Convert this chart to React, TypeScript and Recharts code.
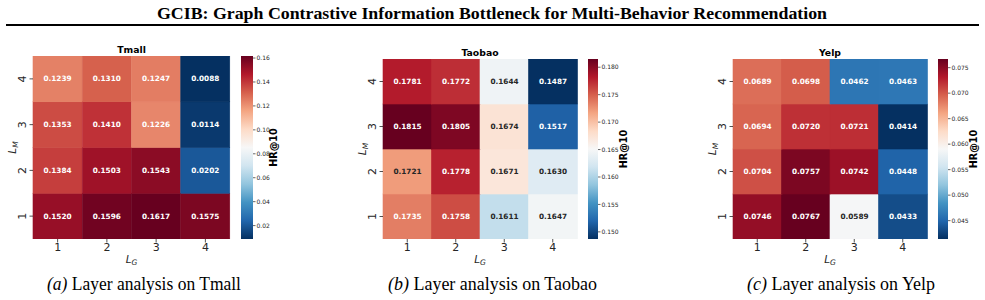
import React from 'react';
import { BarChart, Bar, XAxis, YAxis, Label } from 'recharts';

// ---------- data ----------
const lgTicks = ['1', '2', '3', '4'];
const lmTicks = ['1', '2', '3', '4'];

// values indexed by L_G = 1..4
const tmallLM1 = [0.152, 0.1596, 0.1617, 0.1575];
const tmallLM2 = [0.1384, 0.1503, 0.1543, 0.0202];
const tmallLM3 = [0.1353, 0.141, 0.1226, 0.0114];
const tmallLM4 = [0.1239, 0.131, 0.1247, 0.0088];

const taobaoLM1 = [0.1735, 0.1758, 0.1611, 0.1647];
const taobaoLM2 = [0.1721, 0.1778, 0.1671, 0.163];
const taobaoLM3 = [0.1815, 0.1805, 0.1674, 0.1517];
const taobaoLM4 = [0.1781, 0.1772, 0.1644, 0.1487];

const yelpLM1 = [0.0746, 0.0767, 0.0589, 0.0433];
const yelpLM2 = [0.0704, 0.0757, 0.0742, 0.0448];
const yelpLM3 = [0.0694, 0.072, 0.0721, 0.0414];
const yelpLM4 = [0.0689, 0.0698, 0.0462, 0.0463];

const tmallCbTicks = [0.02, 0.04, 0.06, 0.08, 0.1, 0.12, 0.14, 0.16];
const taobaoCbTicks = [0.15, 0.155, 0.16, 0.165, 0.17, 0.175, 0.18];
const yelpCbTicks = [0.045, 0.05, 0.055, 0.06, 0.065, 0.07, 0.075];

const datasetNames = ['Tmall', 'Taobao', 'Yelp'];
const captionLetters = ['(a)', '(b)', '(c)'];
const captionTexts = [' Layer analysis on Tmall', ' Layer analysis on Taobao', ' Layer analysis on Yelp'];
const mainTitle = 'GCIB: Graph Contrastive Information Bottleneck for Multi-Behavior Recommendation';
const cbLabel = 'HR@10';

const datasets = [
  { id: 'tmall', rows: [tmallLM1, tmallLM2, tmallLM3, tmallLM4], cbTicks: tmallCbTicks, dec: 2 },
  { id: 'taobao', rows: [taobaoLM1, taobaoLM2, taobaoLM3, taobaoLM4], cbTicks: taobaoCbTicks, dec: 3 },
  { id: 'yelp', rows: [yelpLM1, yelpLM2, yelpLM3, yelpLM4], cbTicks: yelpCbTicks, dec: 3 },
];

// ---------- layout ----------
const layouts = [
  { plotLeft: 33, plotRight: 230, plotTop: 56, plotBottom: 239, cbLeft: 241, cbRight: 253, hrOff: 20, titleBase: 52.7, capLeft: 47, capWidth: 194 },
  { plotLeft: 383, plotRight: 577, plotTop: 59, plotBottom: 239, cbLeft: 588, cbRight: 598, hrOff: 25, titleBase: 56.3, capLeft: 388, capWidth: 209 },
  { plotLeft: 733, plotRight: 927, plotTop: 59, plotBottom: 239, cbLeft: 938, cbRight: 948, hrOff: 25, titleBase: 56.3, capLeft: 747, capWidth: 188 },
];

const FONT = '"DejaVu Sans", sans-serif';
const SERIF = '"Liberation Serif", "Times New Roman", serif';
const TEXT_DARK = '#262626';

// RdBu_r colormap stops (low -> high)
const RDBU_R = ['#053061', '#2166ac', '#4393c3', '#92c5de', '#d1e5f0', '#f7f7f7', '#fddbc7', '#f4a582', '#d6604d', '#b2182b', '#67001f'];

function hexToRgb(h: string) {
  return [parseInt(h.slice(1, 3), 16), parseInt(h.slice(3, 5), 16), parseInt(h.slice(5, 7), 16)];
}
function cmap(t: number): number[] {
  const tt = Math.max(0, Math.min(1, t));
  const pos = tt * (RDBU_R.length - 1);
  const i = Math.min(Math.floor(pos), RDBU_R.length - 2);
  const f = pos - i;
  const a = hexToRgb(RDBU_R[i]);
  const b = hexToRgb(RDBU_R[i + 1]);
  return [0, 1, 2].map((k) => a[k] + (b[k] - a[k]) * f);
}
function rgbStr(c: number[]) {
  return `rgb(${Math.round(c[0])},${Math.round(c[1])},${Math.round(c[2])})`;
}
function luminance(c: number[]) {
  const lin = c.map((v) => {
    const s = v / 255;
    return s <= 0.03928 ? s / 12.92 : Math.pow((s + 0.055) / 1.055, 2.4);
  });
  return 0.2126 * lin[0] + 0.7152 * lin[1] + 0.0722 * lin[2];
}

const M_TOP = 26;
const M_BOTTOM = 32;
const X_H = 26;
const Y_W = 30;
const M_LEFT = 3;
const M_RIGHT = 5;

function Heatmap({ ds, lay }: any) {
  const all = ds.rows.flat();
  const vmin = Math.min(...all);
  const vmax = Math.max(...all);
  const table = lgTicks.map((lg, j) => ({
    lg,
    h1: 1, h2: 1, h3: 1, h4: 1,
    v1: ds.rows[0][j], v2: ds.rows[1][j], v3: ds.rows[2][j], v4: ds.rows[3][j],
  }));
  const pw = lay.plotRight - lay.plotLeft;
  const ph = lay.plotBottom - lay.plotTop;
  const width = pw + M_LEFT + Y_W + M_RIGHT;
  const height = ph + M_TOP + M_BOTTOM;

  const yTick = (p: any) => {
    const { x, y, payload } = p;
    const label = lmTicks[Math.floor(payload.value)];
    const bx = x - 1.5;
    return (
      <text x={bx} y={y} transform={`rotate(-90 ${bx} ${y})`} textAnchor="middle" fontSize={11} fill={TEXT_DARK} fontFamily={FONT}>
        {label}
      </text>
    );
  };

  const lgLabel = () => {
    const cx = M_LEFT + Y_W + pw / 2;
    const by = M_TOP + ph + 24.3;
    return (
      <text x={cx} y={by} textAnchor="middle" fontFamily={FONT} fill={TEXT_DARK}>
        <tspan fontStyle="italic" fontSize={10.5}>L</tspan>
        <tspan fontStyle="italic" fontSize={7.5} dy={2}>G</tspan>
      </text>
    );
  };

  const lmLabel = () => {
    const bx = M_LEFT + Y_W - 17.5;
    const cy = M_TOP + ph / 2;
    return (
      <text x={bx} y={cy} transform={`rotate(-90 ${bx} ${cy})`} textAnchor="middle" fontFamily={FONT} fill={TEXT_DARK}>
        <tspan fontStyle="italic" fontSize={10.5}>L</tspan>
        <tspan fontStyle="italic" fontSize={7.5} dy={2}>M</tspan>
      </text>
    );
  };

  const makeShape = (k: number) => (p: any) => {
    const v = p.payload['v' + k];
    const c = cmap((v - vmin) / (vmax - vmin));
    const col = rgbStr(c);
    const txt = luminance(c) > 0.408 ? TEXT_DARK : '#ffffff';
    return (
      <g>
        <rect x={p.x} y={p.y} width={p.width} height={p.height} fill={col} stroke={col} strokeWidth={0.6} />
        <text
          x={p.x + p.width / 2}
          y={p.y + p.height / 2}
          textAnchor="middle"
          dominantBaseline="central"
          fontSize={7.3}
          fontWeight="bold"
          fill={txt}
          fontFamily={FONT}
        >
          {v.toFixed(4)}
        </text>
      </g>
    );
  };

  return (
    <div style={{ position: 'absolute', left: lay.plotLeft - M_LEFT - Y_W, top: lay.plotTop - M_TOP }}>
      <BarChart
        width={width}
        height={height}
        data={table}
        margin={{ top: M_TOP, right: M_RIGHT, bottom: M_BOTTOM - X_H, left: M_LEFT }}
        barCategoryGap={0}
        barGap={0}
      >
        <XAxis
          dataKey="lg"
          height={X_H}
          tickSize={3.5}
          tickMargin={1}
          axisLine={false}
          interval={0}
          tick={{ fontSize: 11, fill: TEXT_DARK, fontFamily: FONT }}
          tickLine={{ stroke: TEXT_DARK, strokeWidth: 0.8 }}
        >
          <Label content={lgLabel} />
        </XAxis>
        <YAxis
          type="number"
          domain={[0, 4]}
          ticks={[0.5, 1.5, 2.5, 3.5]}
          width={Y_W}
          tickSize={3.5}
          tickMargin={2}
          axisLine={false}
          allowDataOverflow
          tick={yTick}
          tickLine={{ stroke: TEXT_DARK, strokeWidth: 0.8 }}
        >
          <Label content={lmLabel} />
        </YAxis>
        {[1, 2, 3, 4].map((k) => (
          <Bar key={k} dataKey={'h' + k} stackId="s" isAnimationActive={false} shape={makeShape(k)} />
        ))}
      </BarChart>
    </div>
  );
}

const CB_YW = 40;
const CB_ML = 2;
const CB_MR = 5;

function ColorBar({ ds, lay }: any) {
  const all = ds.rows.flat();
  const vmin = Math.min(...all);
  const vmax = Math.max(...all);
  const cbData = [{ name: 'cb', range: [vmin, vmax] }];
  const cbW = lay.cbRight - lay.cbLeft;
  const ph = lay.plotBottom - lay.plotTop;
  const gid = 'grad-' + ds.id;

  return (
    <div style={{ position: 'absolute', left: lay.cbLeft - CB_ML, top: lay.plotTop - M_TOP }}>
      <BarChart
        width={CB_ML + cbW + CB_YW + CB_MR}
        height={ph + M_TOP + M_BOTTOM}
        data={cbData}
        margin={{ top: M_TOP, right: CB_MR, bottom: M_BOTTOM, left: CB_ML }}
        barCategoryGap={0}
        barGap={0}
      >
        <defs>
          <linearGradient id={gid} x1="0" y1="1" x2="0" y2="0">
            {RDBU_R.map((c, i) => (
              <stop key={i} offset={i / (RDBU_R.length - 1)} stopColor={c} />
            ))}
          </linearGradient>
        </defs>
        <XAxis dataKey="name" hide />
        <YAxis
          orientation="right"
          type="number"
          domain={[vmin, vmax]}
          allowDataOverflow
          ticks={ds.cbTicks}
          width={CB_YW}
          tickSize={2.5}
          tickMargin={1}
          axisLine={false}
          tick={{ fontSize: 6, fill: TEXT_DARK, fontFamily: FONT }}
          tickLine={{ stroke: TEXT_DARK, strokeWidth: 0.7 }}
          tickFormatter={(v: number) => v.toFixed(ds.dec)}
          interval={0}
        />
        <Bar dataKey="range" fill={`url(#${gid})`} isAnimationActive={false} />
      </BarChart>
    </div>
  );
}

export default function App() {
  return (
    <div style={{ position: 'absolute', left: 0, top: 0, width: 985, height: 300, background: '#fff', overflow: 'hidden' }}>
      {datasets.map((ds, i) => (
        <React.Fragment key={ds.id}>
          <Heatmap ds={ds} lay={layouts[i]} />
          <ColorBar ds={ds} lay={layouts[i]} />
        </React.Fragment>
      ))}
      <svg width={985} height={300} style={{ position: 'absolute', left: 0, top: 0, pointerEvents: 'none' }}>
        <text x={157} y={18.5} fontFamily={SERIF} fontWeight="bold" fontSize={16.5} textLength={670} lengthAdjust="spacingAndGlyphs" fill="#000">
          {mainTitle}
        </text>
        <line x1={6} x2={979} y1={25} y2={25} stroke="#000" strokeWidth={2} />
        {layouts.map((lay, i) => (
          <text
            key={'t' + i}
            x={(lay.plotLeft + lay.plotRight) / 2}
            y={lay.titleBase}
            textAnchor="middle"
            fontFamily={FONT}
            fontWeight="bold"
            fontSize={9.3}
            fill="#000"
          >
            {datasetNames[i]}
          </text>
        ))}
        {layouts.map((lay, i) => {
          const bx = lay.cbRight + lay.hrOff + 3.5;
          const cy = (lay.plotTop + lay.plotBottom) / 2;
          return (
            <text
              key={'h' + i}
              x={bx}
              y={cy}
              transform={`rotate(-90 ${bx} ${cy})`}
              textAnchor="middle"
              fontSize={9.6}
              fontWeight="bold"
              fill="#000"
              fontFamily={FONT}
            >
              {cbLabel}
            </text>
          );
        })}
        {layouts.map((lay, i) => (
          <text
            key={'c' + i}
            x={lay.capLeft}
            y={290}
            fontFamily={SERIF}
            fontSize={18.5}
            fill="#000"
            textLength={lay.capWidth}
            lengthAdjust="spacingAndGlyphs"
          >
            <tspan fontStyle="italic">{captionLetters[i]}</tspan>
            <tspan>{captionTexts[i]}</tspan>
          </text>
        ))}
      </svg>
    </div>
  );
}
